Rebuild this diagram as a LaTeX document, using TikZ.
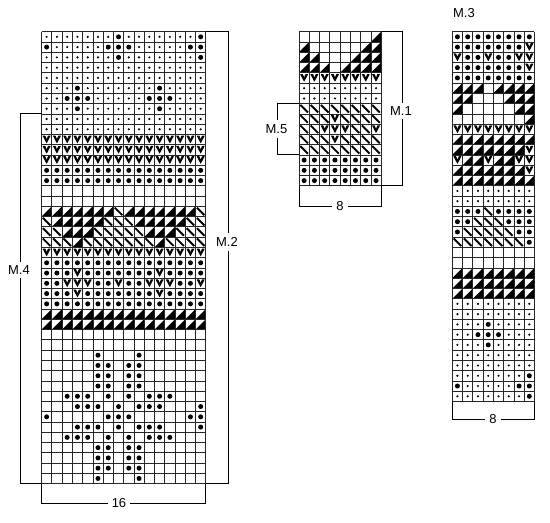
\documentclass[tikz,border=0pt]{standalone}
\usepackage{fontspec}
\setmainfont{Liberation Sans}
\tikzset{
  ks/.pic={\fill (0.5,0.5) circle[radius=1.2pt];},
  kb/.pic={\fill (0.5,0.5) circle[radius=2.5pt];},
  kt/.pic={\fill (0,1) -- (1,1) -- (1,0) -- cycle;},
  kd/.pic={\draw[line width=1.9pt] (0.13,0.13) -- (0.87,0.87);},
  kv/.pic={\fill[rounded corners=0.4pt] (0.1,0.12) -- (0.37,0.12) -- (0.5,0.46) -- (0.63,0.12) -- (0.9,0.12) -- (0.5,0.88) -- cycle;},
  ke/.pic={},
  gridl/.style={line width=0.7pt, draw=black!85},
  brk/.style={line width=0.9pt, draw=black},
  lbl/.style={font=\fontsize{13}{15}\selectfont, inner sep=4pt, fill=white},
  cellscope/.style={x=10.27pt, y=-10.27pt},
}
\newcommand\chartcells[1]{%
  \foreach \rowlist [count=\rr] in {#1} {%
    \foreach \kk [count=\cc] in \rowlist {%
      \edef\tmpcmd{\noexpand\pic at (\cc-1,\rr-1) {k\kk};}\tmpcmd
    }%
  }%
}
\newcommand\chartgrid[2]{%
  \foreach \ii in {0,...,#1} \draw[gridl] (\ii,0) -- (\ii,#2);
  \foreach \jj in {0,...,#2} \draw[gridl] (0,\jj) -- (#1,\jj);
}
\begin{document}
\begin{tikzpicture}[x=1pt,y=-1pt]
\fill[white] (0,0) rectangle (550,523);
\useasboundingbox (0,0) rectangle (550,523);

% ---------- left chart (M.2 / M.4) ----------
\begin{scope}[xshift=41.5pt, yshift=-31.7pt, cellscope]
\chartcells{
{s,s,s,s,s,s,s,b,s,s,s,s,s,s,s,b},
{b,s,s,s,s,s,b,b,b,s,s,s,s,s,b,b},
{s,s,s,s,s,s,s,b,s,s,s,s,s,s,s,b},
{s,s,s,s,s,s,s,s,s,s,s,s,s,s,s,s},
{s,s,s,s,s,s,s,s,s,s,s,s,s,s,s,s},
{s,s,s,b,s,s,s,s,s,s,s,b,s,s,s,s},
{s,s,b,b,b,s,s,s,s,s,b,b,b,s,s,s},
{s,s,s,b,s,s,s,s,s,s,s,b,s,s,s,s},
{s,s,s,s,s,s,s,s,s,s,s,s,s,s,s,s},
{s,s,s,s,s,s,s,s,s,s,s,s,s,s,s,s},
{v,v,v,v,v,v,v,v,v,v,v,v,v,v,v,v},
{v,v,v,v,v,v,v,v,v,v,v,v,v,v,v,v},
{v,v,v,v,v,v,v,v,v,v,v,v,v,v,v,v},
{b,b,b,b,b,b,b,b,b,b,b,b,b,b,b,b},
{b,b,b,b,b,b,b,b,b,b,b,b,b,b,b,b},
{e,e,e,e,e,e,e,e,e,e,e,e,e,e,e,e},
{e,e,e,e,e,e,e,e,e,e,e,e,e,e,e,e},
{t,t,t,t,t,t,t,d,t,t,t,t,t,t,t,d},
{d,t,t,t,t,t,d,d,d,t,t,t,t,t,d,d},
{d,d,t,t,t,d,d,d,d,d,t,t,t,d,d,d},
{d,d,d,t,d,d,d,d,d,d,d,t,d,d,d,d},
{v,v,v,v,v,v,v,v,v,v,v,v,v,v,v,v},
{b,b,b,b,b,b,b,b,b,b,b,b,b,b,b,b},
{b,b,b,v,b,b,b,b,b,b,b,v,b,b,b,b},
{b,b,v,v,v,b,b,v,b,b,v,v,v,b,b,v},
{b,b,b,v,b,b,b,b,b,b,b,v,b,b,b,b},
{b,b,b,b,b,b,b,b,b,b,b,b,b,b,b,b},
{t,t,t,t,t,t,t,t,t,t,t,t,t,t,t,t},
{t,t,t,t,t,t,t,t,t,t,t,t,t,t,t,t},
{e,e,e,e,e,e,e,e,e,e,e,e,e,e,e,e},
{e,e,e,e,e,e,e,e,e,e,e,e,e,e,e,e},
{e,e,e,e,e,b,e,e,e,b,e,e,e,e,e,e},
{e,e,e,e,e,b,b,e,b,b,e,e,e,e,e,e},
{e,e,e,e,e,b,b,e,b,b,e,e,e,e,e,e},
{e,e,e,e,e,b,b,e,b,b,e,e,e,e,e,e},
{e,e,b,b,b,e,b,e,b,e,b,b,b,e,e,e},
{e,e,e,b,b,b,e,b,e,b,b,b,e,e,e,b},
{b,e,e,e,e,e,b,b,b,e,e,e,e,e,b,b},
{e,e,e,b,b,b,e,b,e,b,b,b,e,e,e,b},
{e,e,b,b,b,e,b,e,b,e,b,b,b,e,e,e},
{e,e,e,e,e,b,b,e,b,b,e,e,e,e,e,e},
{e,e,e,e,e,b,b,e,b,b,e,e,e,e,e,e},
{e,e,e,e,e,b,b,e,b,b,e,e,e,e,e,e},
{e,e,e,e,e,b,e,e,e,b,e,e,e,e,e,e}}
\chartgrid{16}{44}
\end{scope}

% ---------- M.1 ----------
\begin{scope}[xshift=299pt, yshift=-31.7pt, cellscope]
\chartcells{
{e,e,e,e,e,e,e,t},
{t,e,e,e,e,e,t,t},
{t,t,e,e,e,t,t,t},
{t,t,t,e,t,t,t,t},
{v,v,v,v,v,v,v,v},
{s,s,s,s,s,s,s,s},
{s,s,s,s,s,s,s,s},
{d,d,d,d,d,d,d,d},
{d,d,d,v,d,d,d,d},
{d,d,v,v,v,d,d,v},
{d,d,d,v,d,d,d,d},
{d,d,d,d,d,d,d,d},
{b,b,b,b,b,b,b,b},
{b,b,b,b,b,b,b,b},
{b,b,b,b,b,b,b,b}}
\chartgrid{8}{15}
\end{scope}

% ---------- M.3 ----------
\begin{scope}[xshift=452.3pt, yshift=-31.7pt, cellscope]
\chartcells{
{b,b,b,b,b,b,b,b},
{b,b,b,b,b,b,b,v},
{v,b,b,v,b,b,v,v},
{b,b,b,b,b,b,b,v},
{b,b,b,b,b,b,b,b},
{t,t,t,e,t,t,t,t},
{t,t,e,e,e,t,t,t},
{t,e,e,e,e,e,t,t},
{e,e,e,e,e,e,e,t},
{v,v,v,v,v,v,v,v},
{t,t,t,t,t,t,t,t},
{t,t,t,t,t,t,t,v},
{v,t,t,v,t,t,v,v},
{t,t,t,t,t,t,t,v},
{t,t,t,t,t,t,t,t},
{s,s,s,s,s,s,s,s},
{s,s,s,s,s,s,s,s},
{b,b,b,d,b,b,b,b},
{b,b,d,d,d,b,b,b},
{b,d,d,d,d,d,b,b},
{d,d,d,d,d,d,d,b},
{e,e,e,e,e,e,e,e},
{e,e,e,e,e,e,e,e},
{t,t,t,t,t,t,t,t},
{t,t,t,t,t,t,t,t},
{t,t,t,t,t,t,t,t},
{s,s,s,s,s,s,s,s},
{s,s,s,s,s,s,s,s},
{s,s,s,b,s,s,s,s},
{s,s,b,b,b,s,s,s},
{s,s,s,b,s,s,s,s},
{s,s,s,s,s,s,s,s},
{s,s,s,s,s,s,s,s},
{s,s,s,s,s,s,s,b},
{b,s,s,s,s,s,b,b},
{s,s,s,s,s,s,s,b}}
\chartgrid{8}{36}
\end{scope}

% ---------- brackets and labels ----------
\draw[brk] (205.8,31.7) -- (228,31.7) -- (228,483.9) -- (205.8,483.9);
\node[lbl] (m2) at (227,242) {M.2};
\draw[brk] (41.5,113.9) -- (20,113.9) -- (20,483.9) -- (41.5,483.9);
\node[lbl] (m4) at (19,270) {M.4};
\draw[brk] (41.5,483.9) -- (41.5,503) -- (205.8,503) -- (205.8,483.9);
\node[lbl] (n16) at (119,503) {16};

\draw[brk] (299,103.6) -- (277,103.6) -- (277,154.9) -- (299,154.9);
\node[lbl] (m5) at (276.5,129) {M.5};
\draw[brk] (381.2,31.7) -- (402,31.7) -- (402,185.8) -- (381.2,185.8);
\node[lbl] (m1) at (401,111) {M.1};
\draw[brk] (299,185.8) -- (299,206) -- (381.2,206) -- (381.2,185.8);
\node[lbl] (n8a) at (340,206) {8};

\node[font=\fontsize{13}{15}\selectfont, inner sep=0pt] (m3) at (464,13.5) {M.3};
\draw[brk] (452.3,401.4) -- (452.3,419) -- (534.5,419) -- (534.5,401.4);
\node[lbl] (n8b) at (493,419) {8};
\end{tikzpicture}
\end{document}
